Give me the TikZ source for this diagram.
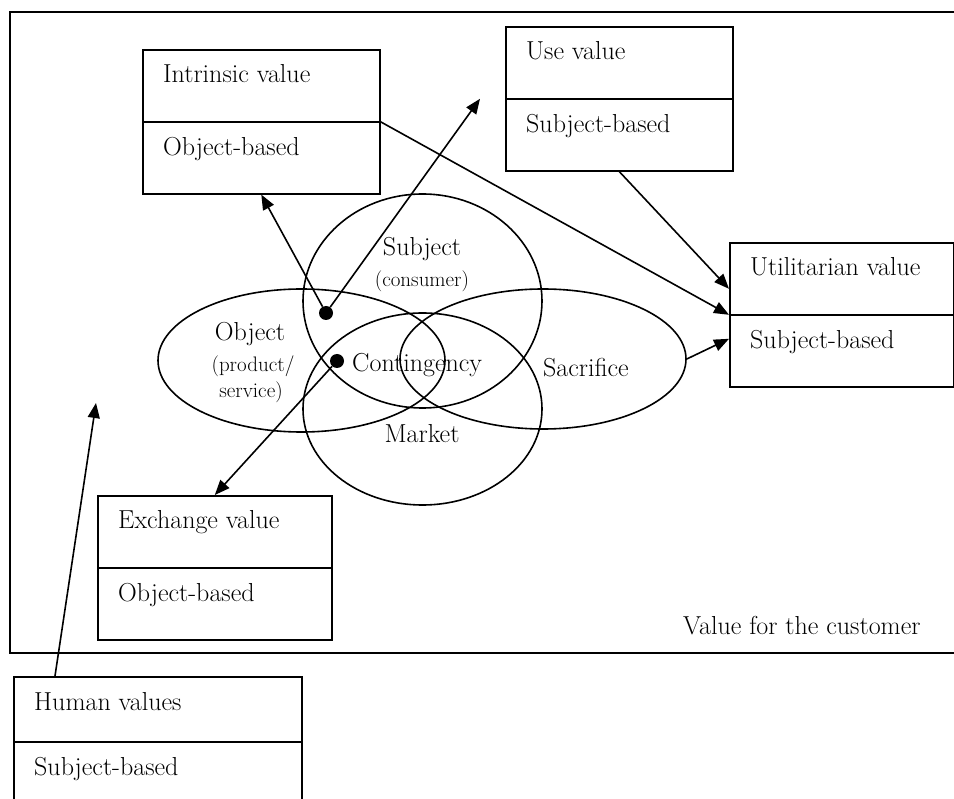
\documentclass[tikz,border=0pt]{standalone}
\usepackage{fontspec}
\usetikzlibrary{arrows.meta,shapes.geometric}
\tikzstyle{valbox}=[draw, line width=1.6pt, minimum height=144pt, inner sep=0pt,
	anchor=north west]
\tikzstyle{texto}=[anchor=base west, inner sep=0pt, font=\fontsize{26}{30}\selectfont]
\tikzstyle{ovaltext}=[anchor=base, inner sep=0pt, font=\fontsize{26}{30}\selectfont]
\tikzstyle{smalltext}=[anchor=base, inner sep=0pt, font=\fontsize{21}{25}\selectfont]
\tikzstyle{oval}=[draw, ellipse, line width=1.6pt, inner sep=0pt]
\tikzstyle{blob}=[circle, fill=black, inner sep=0pt, minimum size=14pt]
\tikzstyle{line}=[draw, line width=1.6pt, -{Triangle[length=15pt,width=12pt]}]
% #1 extra style, #2 name, #3 x, #4 y (top left), #5 width, #6 upper, #7 lower
\newcommand{\valBox}[7][]{%
	\path (#3,#4) node (#2) [valbox, minimum width=#5pt, #1] {};
	\draw[line width=1.6pt] (#2.west) -- (#2.east);
	\path (#2.north west)+(21,-34) node [texto] {#6};
	\path (#2.west)+(21,-34) node [texto] {#7};}

\begin{document}
\begin{tikzpicture}[x=1pt, y=1pt]
	\useasboundingbox (0,0) rectangle (954,-799);
	
	% Outer frame
	\draw[line width=1.6pt] (10,-12) rectangle (975,-653);
	\path (683,-634) node [texto] {Value for the customer};
	
	% Value boxes
	\valBox{intr}{142}{-49}{237}{Intrinsic value}{Object-based}
	\valBox{use}{505}{-26}{227}{Use value}{Subject-based}
	\valBox{util}{729}{-242}{224}{Utilitarian value}{Subject-based}
	\valBox{exch}{97}{-495}{234}{Exchange value}{Object-based}
	\valBox[minimum height=130pt]{human}{13}{-676}{288}{Human values}{Subject-based}
	
	% Ellipses
	\path (422.5,-301) node (subj) [oval, minimum width=239pt, minimum height=214pt] {};
	\path (301.5,-360.5) node (obj) [oval, minimum width=287pt, minimum height=143pt] {};
	\path (422.5,-409) node (mkt) [oval, minimum width=239pt, minimum height=192pt] {};
	\path (543,-359) node (sacr) [oval, minimum width=286pt, minimum height=140pt] {};
	
	\path (422,-256) node [ovaltext] {Subject};
	\path (422,-287) node [smalltext] {(consumer)};
	\path (250,-341) node [ovaltext] {Object};
	\path (253,-372) node [smalltext] {(product/};
	\path (251,-398) node [smalltext] {service)};
	\path (352,-372) node [texto] {Contingency};
	\path (422,-443) node [ovaltext] {Market};
	\path (543,-377) node [texto] {Sacrifice};
	
	\path (326,-313) node (d1) [blob] {};
	\path (337,-361) node (d2) [blob] {};
	\coordinate (humanTip) at (96,-403);
	
	% Draw arrows between elements
	\path [line] (d1) -- (intr.south);
	\path [line] (d1) -- ([xshift=-25pt]use.west);
	\path [line] (d2) -- (exch.north);
	\path [line] (intr.east) -- (util.west);
	\path [line] (use.south) -- ([yshift=26pt]util.west);
	\path [line] (sacr.east) -- ([yshift=-24pt]util.west);
	\path [line] ([xshift=42pt]human.north west) -- (humanTip);
	
\end{tikzpicture}
\end{document}
